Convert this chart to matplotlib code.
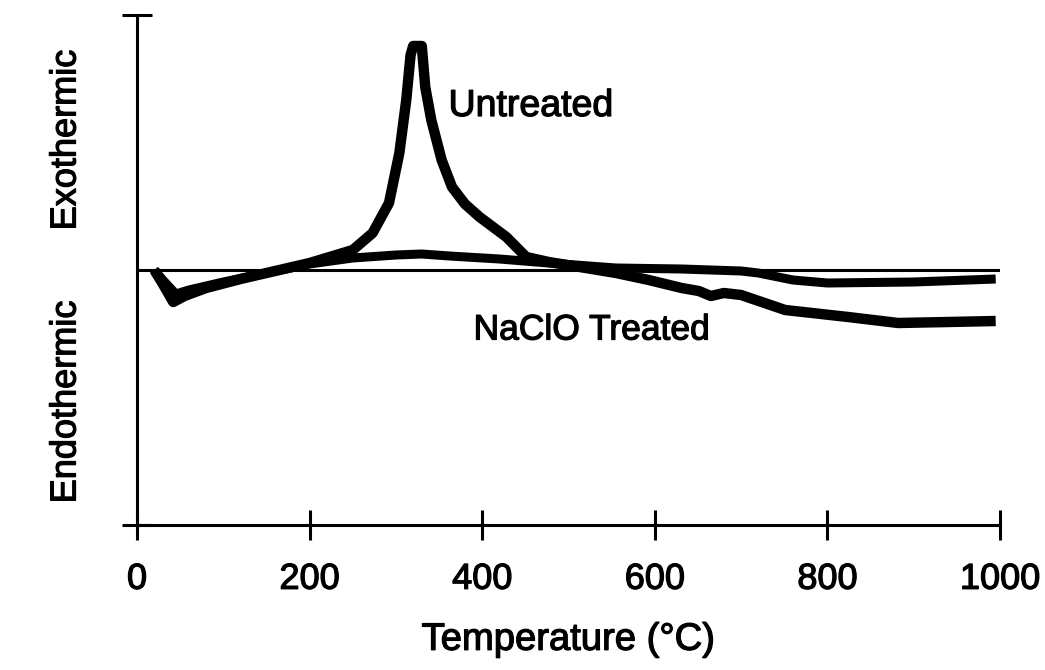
import numpy as np
import matplotlib
matplotlib.use("Agg")
import matplotlib.pyplot as plt
import matplotlib.patheffects as pe

plt.rcParams['font.family'] = ['Liberation Sans', 'DejaVu Sans']

# DTA traces (arbitrary heat flow units, 0 = baseline)
untreated_T = [20, 30, 42, 55, 80, 120, 160, 200, 227, 250, 273, 292, 304, 312, 317,
               320, 330, 334, 341, 353, 365, 380, 397, 428, 451, 477, 520, 555, 593, 631,
               651, 665, 680, 700, 751, 824, 882, 940, 995]
untreated_v = [0, -14, -32, -26, -18, -9, -1, 7, 14, 20, 37, 67, 117, 170, 215,
               224, 224, 183, 150, 110, 83, 66, 53, 33, 13, 8, 2, -3, -10, -18,
               -21, -26, -23, -25, -40, -47, -53, -52, -51]

treated_T = [20, 30, 45, 60, 100, 150, 200, 250, 300, 330, 362, 420, 477, 555,
             631, 700, 720, 760, 800, 900, 995]
treated_v = [0, -10, -24, -20, -12, -3, 6, 12, 15, 16, 14, 11, 7, 2,
             1, -1, -3, -10, -13, -12, -9]

xticks = [0, 200, 400, 600, 800, 1000]

thick = [pe.withStroke(linewidth=0.9, foreground='black')]

fig = plt.figure(figsize=(10.45, 6.70), dpi=100)
ax = fig.add_axes([137/1045, 1 - 525/670, (1000 - 137)/1045, 510/670])

ax.axhline(0, color='black', lw=2.2, zorder=1)
ax.plot(treated_T, treated_v, color='black', lw=6.5, solid_joinstyle='round',
        solid_capstyle='butt', zorder=2)
ax.plot(untreated_T, untreated_v, color='black', lw=7.5, solid_joinstyle='round',
        solid_capstyle='butt', zorder=3)

ax.set_xlim(0, 1000)
ax.set_ylim(-255, 255)
ax.set_xticks(xticks)
ax.set_yticks([-255, 255])
ax.set_yticklabels([])
for s in ['top', 'right']:
    ax.spines[s].set_visible(False)
for s in ['left', 'bottom']:
    ax.spines[s].set_linewidth(2.2)
ax.tick_params(direction='inout', length=21, width=2.2, labelsize=26, pad=16)
for lab in ax.get_xticklabels():
    lab.set_path_effects(thick)

ax.set_xlabel("Temperature (\u00b0C)", fontsize=27.5, labelpad=18, path_effects=thick)

ax.text(361, 164, "Untreated", fontsize=27, va='center', ha='left', path_effects=thick)
ax.text(390, -60, "NaClO Treated", fontsize=25.5, va='center', ha='left', path_effects=thick)

fig.text(66/1045, 1 - 140/670, "Exothermic", rotation=90, fontsize=26,
         ha='center', va='center', path_effects=thick)
fig.text(66/1045, 1 - 402/670, "Endothermic", rotation=90, fontsize=26,
         ha='center', va='center', path_effects=thick)

fig.savefig("out.png", dpi=100)
